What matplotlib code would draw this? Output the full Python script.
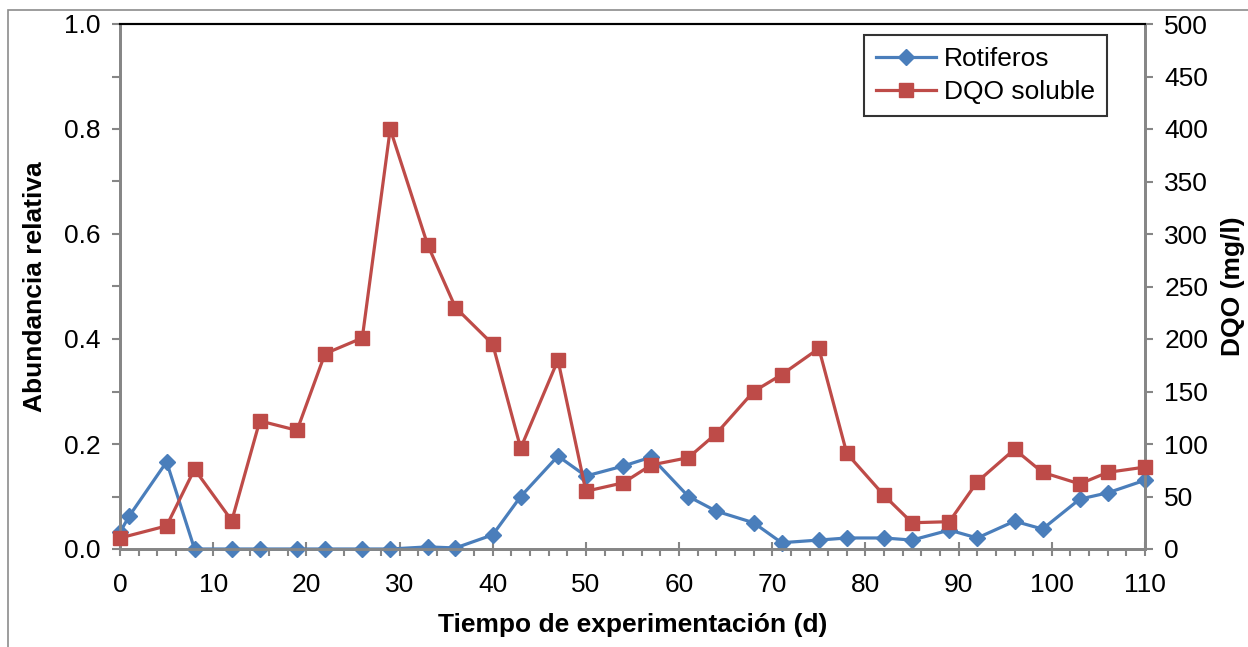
import matplotlib.pyplot as plt
from matplotlib.patches import Rectangle
from matplotlib.ticker import MultipleLocator

plt.rcParams['font.family'] = ['Liberation Sans', 'DejaVu Sans']

# datos
dias = [0, 1, 5, 8, 12, 15, 19, 22, 26, 29, 33, 36, 40, 43, 47, 50, 54, 57,
        61, 64, 68, 71, 75, 78, 82, 85, 89, 92, 96, 99, 103, 106, 110]
rotiferos = [0.032, 0.063, 0.166, 0.0, 0.0, 0.0, 0.0, 0.0, 0.0, 0.0, 0.004,
             0.002, 0.027, 0.100, 0.177, 0.139, 0.158, 0.175, 0.100, 0.072,
             0.050, 0.012, 0.017, 0.021, 0.021, 0.017, 0.036, 0.021, 0.053,
             0.038, 0.095, 0.107, 0.131]
dias_dqo = [0, 5, 8, 12, 15, 19, 22, 26, 29, 33, 36, 40, 43, 47, 50, 54, 57,
            61, 64, 68, 71, 75, 78, 82, 85, 89, 92, 96, 99, 103, 106, 110]
dqo = [10.5, 22, 76, 27, 122, 113, 186, 201, 400, 290, 230, 195, 96, 180,
       55, 63, 80, 87, 110, 150, 166, 191, 91, 51, 25, 26, 64, 95, 73, 62,
       73, 78]

azul = '#4a7ebb'
rojo = '#be4b48'
gris = '#868686'
fs = 19

fig = plt.figure(figsize=(12.48, 6.47), dpi=100)
fig.patches.append(Rectangle((8 / 1248, -0.1), 1.2, 1.1 - 10 / 647,
                             transform=fig.transFigure, fill=False,
                             edgecolor='#8c8c8c', linewidth=1.2))

ax = fig.add_axes([120 / 1248, 1 - 549 / 647, 1025 / 1248, 525 / 647])
ax2 = ax.twinx()

l1, = ax.plot(dias, rotiferos, color=azul, lw=2.3, marker='D', ms=8.5,
              label='Rotiferos', zorder=3, clip_on=False)
l2, = ax2.plot(dias_dqo, dqo, color=rojo, lw=2.3, marker='s', ms=10.5,
               label='DQO soluble', zorder=3, clip_on=False)

ax.set_xlim(0, 110)
ax.set_ylim(0, 1.0)
ax2.set_ylim(0, 500)
ax.xaxis.set_major_locator(MultipleLocator(10))
ax.xaxis.set_minor_locator(MultipleLocator(2))
ax.yaxis.set_major_locator(MultipleLocator(0.2))
ax.yaxis.set_minor_locator(MultipleLocator(0.1))
ax2.yaxis.set_major_locator(MultipleLocator(50))
ax.yaxis.set_major_formatter(plt.FormatStrFormatter('%.1f'))

for a in (ax, ax2):
    for s in a.spines.values():
        s.set_color(gris)
        s.set_linewidth(2)
    a.spines['top'].set_color('black')
    a.spines['top'].set_linewidth(1.5)
ax.tick_params(axis='x', which='major', direction='inout', length=10,
               width=1.5, color=gris, labelsize=fs, pad=12)
ax.tick_params(axis='x', which='minor', direction='out', length=5,
               width=1.5, color=gris)
ax.tick_params(axis='y', which='both', direction='out', length=6,
               width=1.5, color=gris, labelsize=fs, pad=8)
ax2.tick_params(axis='y', direction='out', length=6, width=1.5, color=gris,
                labelsize=fs, pad=8)

ax.set_xlabel('Tiempo de experimentación (d)', fontsize=fs, fontweight='bold',
              labelpad=12)
ax.set_ylabel('Abundancia relativa', fontsize=fs, fontweight='bold',
              labelpad=12)
ax2.set_ylabel('DQO (mg/l)', fontsize=fs, fontweight='bold', labelpad=9)

leg = ax2.legend(handles=[l1, l2], loc='upper right',
                 bbox_to_anchor=(987 / 1025, 1 - 11 / 525), borderaxespad=0,
                 fontsize=fs, frameon=True, fancybox=False, handlelength=2.3,
                 handletextpad=0.3, borderpad=0.45, labelspacing=0.35)
leg.get_frame().set_edgecolor('black')
leg.get_frame().set_linewidth(1.5)

fig.savefig('out.png', dpi=100)
